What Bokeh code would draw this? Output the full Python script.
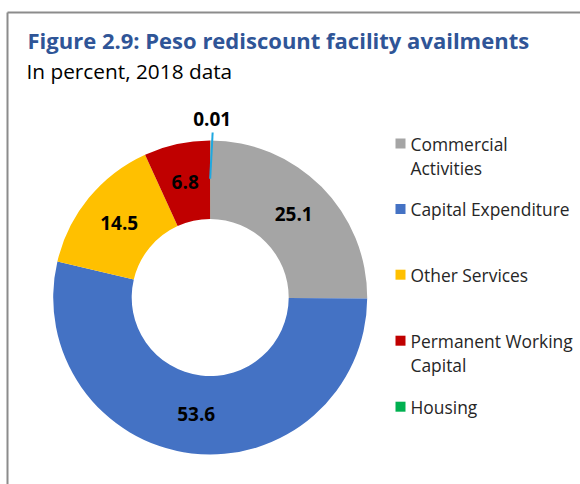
import math
from bokeh.plotting import figure
from bokeh.models import Range1d, ColumnDataSource
from bokeh.core.properties import value
from bokeh.embed import file_html
from bokeh.resources import INLINE

# ---------------- data ----------------
categories = ["Commercial Activities", "Capital Expenditure", "Other Services",
              "Permanent Working Capital", "Housing"]
legend_labels = ["Commercial\nActivities", "Capital Expenditure", "Other Services",
                 "Permanent Working\nCapital", "Housing"]
values = [25.1, 53.6, 14.5, 6.8, 0.01]
value_labels = ["25.1", "53.6", "14.5", "6.8", "0.01"]
colors = ["#A5A5A5", "#4472C4", "#FFC000", "#C00000", "#00B050"]

title_text = "Figure 2.9: Peso rediscount facility availments"
subtitle_text = "In percent, 2018 data"

# ---------------- layout ----------------
W, H = 580, 484
FONT = "Open Sans"


def sx(X):  # page pixel -> data x
    return X


def sy(Y):  # page pixel -> data y
    return H - Y


CX, CY = sx(209.7), sy(297)
R_OUT, R_IN = 157, 78.5
R_MID = (R_OUT + R_IN) / 2

p = figure(width=W, height=H, x_range=Range1d(0, W), y_range=Range1d(0, H),
           output_backend="svg", toolbar_location=None, min_border=0,
           x_axis_location=None, y_axis_location=None)
p.grid.visible = False
p.outline_line_color = None
p.background_fill_color = "white"
p.border_fill_color = "white"

# frame lines (top + left)
p.segment(x0=[sx(7), sx(7)], y0=[sy(12), sy(12)], x1=[W + 10, sx(7)], y1=[sy(12), -10],
          line_color="#8C8C8C", line_width=2)

# titles
p.text(x=[sx(27)], y=[sy(39)], text=[title_text], text_font=value(FONT),
       text_font_style="bold", text_font_size="22px", text_color="#2F5597",
       text_baseline="middle", text_align="left")
p.text(x=[sx(26)], y=[sy(70.5)], text=[subtitle_text], text_font=value(FONT),
       text_font_size="20.8px", text_color="#000000",
       text_baseline="middle", text_align="left")

# donut
total = sum(values)
starts, ends, mids = [], [], []
cum = 0.0
for v in values:
    a0 = math.pi / 2 - 2 * math.pi * cum / total
    cum += v
    a1 = math.pi / 2 - 2 * math.pi * cum / total
    starts.append(a1)
    ends.append(a0)
    mids.append((a0 + a1) / 2)

src = ColumnDataSource(dict(x=[CX] * len(values), y=[CY] * len(values),
                            start=starts, end=ends, color=colors, cat=categories))
p.annular_wedge(x="x", y="y", inner_radius=R_IN, outer_radius=R_OUT,
                start_angle="start", end_angle="end", direction="anticlock",
                fill_color="color", line_color=None, source=src)

# data labels (inside ring for all but the tiny last slice)
lx, ly, lt = [], [], []
for i, m in enumerate(mids[:-1]):
    lx.append(CX + R_MID * math.cos(m))
    ly.append(CY + R_MID * math.sin(m))
    lt.append(value_labels[i])
p.text(x=lx, y=ly, text=lt, text_font=value(FONT), text_font_style="bold",
       text_font_size="19px", text_color="#000000",
       text_align="center", text_baseline="middle")

# tiny slice: leader line + outside label
m = mids[-1]
p.segment(x0=[CX + (R_MID + 1) * math.cos(m)], y0=[CY + (R_MID + 1) * math.sin(m)],
          x1=[CX + 165 * math.cos(m) + 2.5], y1=[CY + 165 * math.sin(m)],
          line_color="#1FA8E0", line_width=2)
p.text(x=[CX + 179 * math.cos(m) + 2], y=[CY + 179 * math.sin(m)],
       text=[value_labels[-1]], text_font=value(FONT), text_font_style="bold",
       text_font_size="19px", text_color="#000000",
       text_align="center", text_baseline="middle")

# legend (manual)
LEG_MID = [143, 208.5, 274.2, 340.2, 406.2]
LINE_GAP = 24
sq_x, sq_y, tx, ty, tt = [], [], [], [], []
for i, lab in enumerate(legend_labels):
    sq_x.append(sx(400))
    sq_y.append(sy(LEG_MID[i]))
    for k, line in enumerate(lab.split("\n")):
        tx.append(sx(410))
        ty.append(sy(LEG_MID[i] + k * LINE_GAP))
        tt.append(line)
p.rect(x=sq_x, y=sq_y, width=10, height=10, fill_color=colors, line_color=None)
p.text(x=tx, y=ty, text=tt, text_font=value(FONT), text_font_size="17.4px",
       text_color="#262626", text_align="left", text_baseline="middle")

open("out.html", "w").write(file_html(p, INLINE))
